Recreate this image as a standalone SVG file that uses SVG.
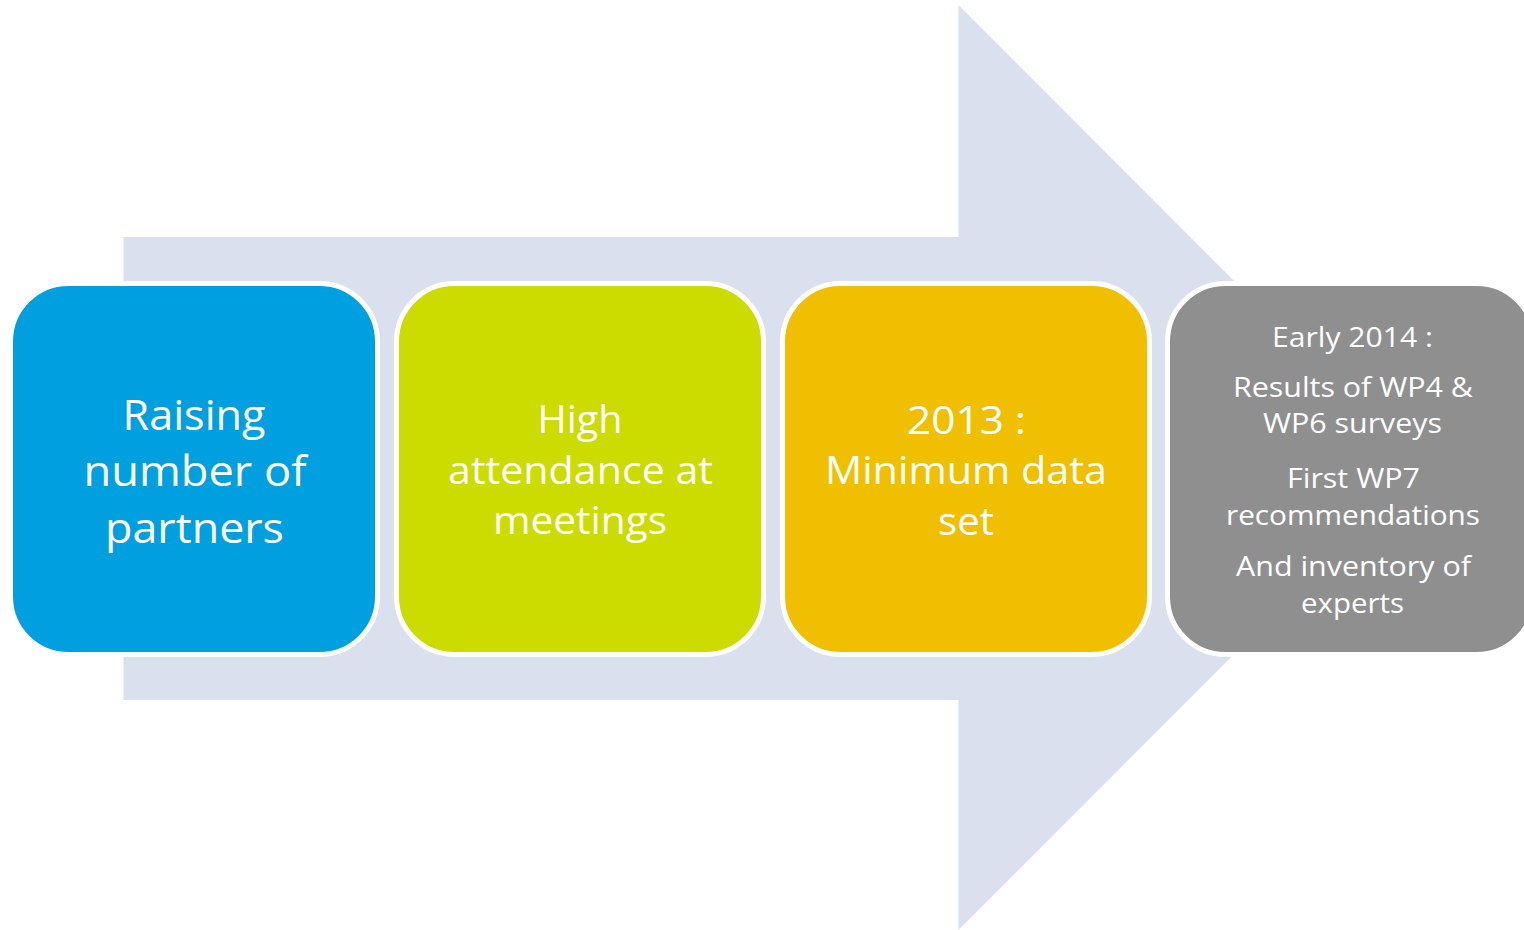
<svg xmlns="http://www.w3.org/2000/svg" width="1524" height="930" viewBox="0 0 1524 930">
<style>
.box{stroke:#ffffff;stroke-width:5}
.t{font-family:"Open Sans","Noto Sans","Liberation Sans",sans-serif;fill:#ffffff;text-anchor:middle}
.t1{font-size:42px}
.t2{font-size:38px}
.t4{font-size:26.5px}
</style>
<rect width="1524" height="930" fill="#ffffff"/>
<g id="arrow">
<polygon points="123.5,237 958.5,237 958.5,5 1420.5,467.5 958.5,930 958.5,700 123.5,700" fill="#DAE0EE"/>
</g>
<g id="connectors"></g>
<g id="node1">
<rect class="box" x="10.5" y="283.5" width="367" height="371" rx="58" fill="#009FDF"/>
<text class="t t1" x="194" y="430" textLength="143" lengthAdjust="spacingAndGlyphs">Raising</text>
<text class="t t1" x="195" y="486" textLength="223" lengthAdjust="spacingAndGlyphs">number of</text>
<text class="t t1" x="194.5" y="543" textLength="179" lengthAdjust="spacingAndGlyphs">partners</text>
</g>
<g id="node2">
<rect class="box" x="396.5" y="283.5" width="367" height="371" rx="58" fill="#CCDB00"/>
<text class="t t2" x="580" y="433" textLength="85" lengthAdjust="spacingAndGlyphs">High</text>
<text class="t t2" x="580.5" y="484" textLength="265" lengthAdjust="spacingAndGlyphs">attendance at</text>
<text class="t t2" x="580" y="534" textLength="174" lengthAdjust="spacingAndGlyphs">meetings</text>
</g>
<g id="node3">
<rect class="box" x="782.5" y="283.5" width="367" height="371" rx="58" fill="#F0BF00"/>
<text class="t t2" x="966.5" y="434" textLength="119" lengthAdjust="spacingAndGlyphs">2013 :</text>
<text class="t t2" x="966" y="484" textLength="282" lengthAdjust="spacingAndGlyphs">Minimum data</text>
<text class="t t2" x="966" y="535" textLength="56" lengthAdjust="spacingAndGlyphs">set</text>
</g>
<g id="node4">
<rect class="box" x="1167.5" y="283.5" width="367" height="371" rx="58" fill="#8F8F8F"/>
<text class="t t4" x="1352.5" y="347" textLength="161" lengthAdjust="spacingAndGlyphs">Early 2014 :</text>
<text class="t t4" x="1353" y="397" textLength="240" lengthAdjust="spacingAndGlyphs">Results of WP4 &amp;</text>
<text class="t t4" x="1352.5" y="433" textLength="179" lengthAdjust="spacingAndGlyphs">WP6 surveys</text>
<text class="t t4" x="1353.5" y="488" textLength="133" lengthAdjust="spacingAndGlyphs">First WP7</text>
<text class="t t4" x="1353" y="525" textLength="254" lengthAdjust="spacingAndGlyphs">recommendations</text>
<text class="t t4" x="1353.5" y="576" textLength="235" lengthAdjust="spacingAndGlyphs">And inventory of</text>
<text class="t t4" x="1352.5" y="613" textLength="103" lengthAdjust="spacingAndGlyphs">experts</text>
</g>
</svg>
